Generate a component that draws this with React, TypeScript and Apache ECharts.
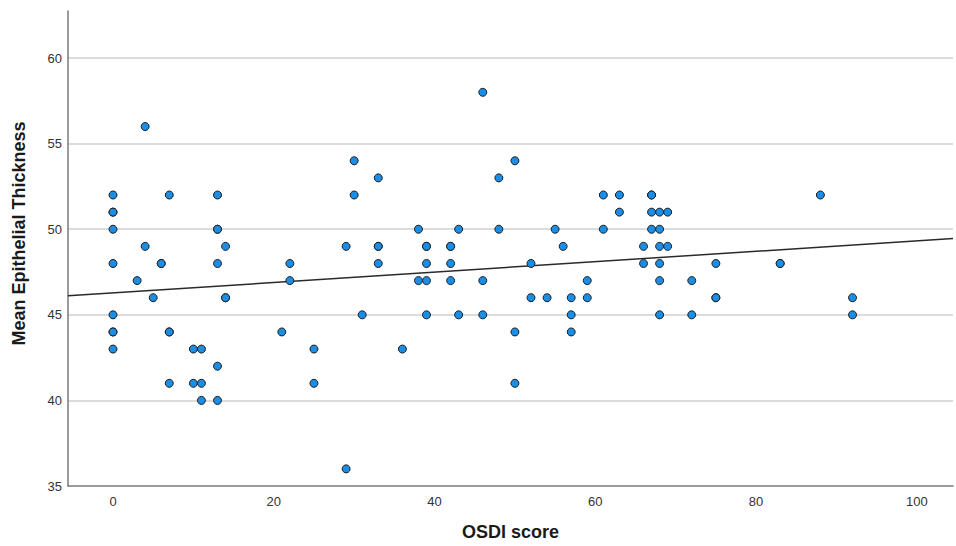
import React, { useEffect, useRef } from "react";
import * as echarts from "echarts";

// OSDI score (x) and Mean Epithelial Thickness (y)
const osdiScores: number[] = [
  0, 0, 0, 0, 0, 0, 0, 0, 0,
  3,
  4, 4,
  5,
  6, 6,
  7, 7, 7, 7,
  10, 10,
  11, 11, 11,
  13, 13, 13, 13, 13, 13,
  14, 14, 14,
  21,
  22, 22,
  25, 25,
  29, 29,
  30, 30,
  31,
  33, 33, 33, 33,
  36,
  38, 38,
  39, 39, 39, 39, 39,
  42, 42, 42, 42,
  43, 43,
  46, 46, 46,
  48, 48,
  50, 50, 50,
  52, 52,
  54,
  55,
  56,
  57, 57, 57,
  59, 59,
  61, 61,
  63, 63,
  66, 66,
  67, 67, 67, 67,
  68, 68, 68, 68, 68, 68,
  69, 69,
  72, 72,
  75, 75, 75,
  83, 83,
  88,
  92, 92,
];

const thickness: number[] = [
  52, 51, 51, 50, 48, 45, 44, 44, 43,
  47,
  56, 49,
  46,
  48, 48,
  52, 44, 44, 41,
  43, 41,
  43, 41, 40,
  52, 50, 50, 48, 42, 40,
  49, 46, 46,
  44,
  48, 47,
  43, 41,
  49, 36,
  54, 52,
  45,
  53, 49, 49, 48,
  43,
  50, 47,
  49, 49, 48, 47, 45,
  49, 49, 48, 47,
  50, 45,
  58, 47, 45,
  53, 50,
  54, 44, 41,
  48, 46,
  46,
  50,
  49,
  46, 45, 44,
  47, 46,
  52, 50,
  52, 51,
  49, 48,
  52, 52, 51, 50,
  51, 50, 49, 48, 47, 45,
  51, 49,
  47, 45,
  48, 46, 46,
  48, 48,
  52,
  46, 45,
];

// Fit line (linear regression)
const fitIntercept = 46.28;
const fitSlope = 0.0304;

const xMin = -5.6;
const xMax = 104.5;
const yMin = 35;
const yMax = 62.75;

const xAxisTitle = "OSDI score";
const yAxisTitle = "Mean Epithelial Thickness";

export default function App() {
  const ref = useRef<HTMLDivElement>(null);

  useEffect(() => {
    if (!ref.current) return;
    const chart = echarts.init(ref.current, undefined, { renderer: "svg" });
    const points = osdiScores.map((x, i) => [x, thickness[i]]);
    const fitLine = [xMin, xMax].map((x) => [x, fitIntercept + fitSlope * x]);

    chart.setOption({
      animation: false,
      backgroundColor: "#ffffff",
      textStyle: { fontFamily: "Liberation Sans, Arial, sans-serif" },
      grid: { left: 68, right: 0, top: 11, bottom: 57, containLabel: false },
      xAxis: {
        type: "value",
        min: xMin,
        max: xMax,
        splitNumber: 5,
        name: xAxisTitle,
        nameLocation: "middle",
        nameGap: 37,
        nameTextStyle: {
          fontSize: 18,
          fontWeight: "bold",
          color: "#1a1a1a",
          fontFamily: "Liberation Sans, Arial, sans-serif",
        },
        axisLine: { show: true, onZero: false, lineStyle: { color: "#7a7a7a", width: 1.5 } },
        axisTick: { show: false },
        splitLine: { show: false },
        axisLabel: {
          fontSize: 13,
          color: "#333333",
          margin: 9,
          formatter: (v: number) => (Math.abs(v % 20) < 1e-9 ? String(v) : ""),
        },
      },
      yAxis: {
        type: "value",
        min: yMin,
        max: yMax,
        interval: 5,
        name: yAxisTitle,
        nameLocation: "middle",
        nameGap: 40,
        nameTextStyle: {
          fontSize: 18,
          fontWeight: "bold",
          color: "#1a1a1a",
          fontFamily: "Liberation Sans, Arial, sans-serif",
          padding: [0, 0, 0, 30],
        },
        axisLine: { show: true, onZero: false, lineStyle: { color: "#7a7a7a", width: 1.5 } },
        axisTick: { show: false },
        splitLine: {
          show: true,
          showMinLine: false,
          showMaxLine: false,
          lineStyle: { color: "#d0d0d0", width: 1.5 },
        },
        axisLabel: {
          fontSize: 13,
          color: "#333333",
          margin: 6,
          formatter: (v: number) => (Math.abs(v % 5) < 1e-9 ? String(v) : ""),
        },
      },
      series: [
        {
          type: "line",
          data: fitLine,
          symbol: "none",
          lineStyle: { color: "#2a2a2a", width: 1.5 },
          silent: true,
          z: 1,
        },
        {
          type: "scatter",
          data: points,
          symbol: "circle",
          symbolSize: 8,
          itemStyle: { color: "#1b8de4", borderColor: "#1e1e1e", borderWidth: 1, opacity: 1 },
          z: 2,
        },
      ],
    });
    return () => chart.dispose();
  }, []);

  return (
    <div
      ref={ref}
      style={{ position: "fixed", left: 0, top: 0, width: 956, height: 546, background: "#fff" }}
    />
  );
}
